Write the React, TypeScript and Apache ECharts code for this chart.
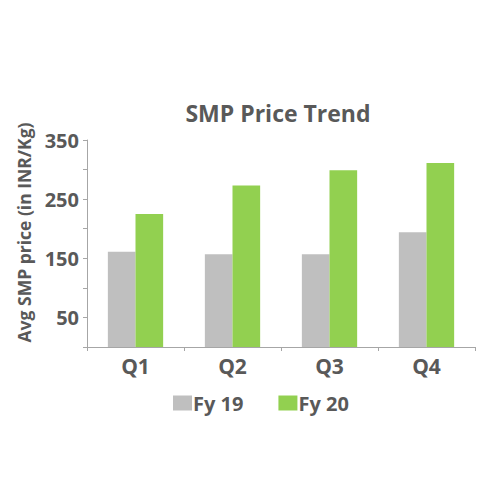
import React, { useEffect, useRef } from "react";
import * as echarts from "echarts";

const categories = ["Q1", "Q2", "Q3", "Q4"];
const fy19 = [161, 157, 157, 194];
const fy20 = [225, 273, 299, 311];
const seriesNames = ["Fy 19", "Fy 20"];
const shownTicks = [50, 150, 250, 350];

const TEXT = "#595959";
const FONT = "Open Sans";

export default function App() {
  const ref = useRef<HTMLDivElement>(null);
  useEffect(() => {
    if (!ref.current) return;
    const chart = echarts.init(ref.current, null, { renderer: "svg" });
    chart.setOption({
      animation: false,
      backgroundColor: "#ffffff",
      title: {
        text: "SMP Price Trend",
        left: 273,
        textAlign: "center",
        top: 96,
        textStyle: { color: TEXT, fontFamily: FONT, fontWeight: "bold", fontSize: 23 },
      },
      grid: { left: 87, right: 25, top: 140, bottom: 153, containLabel: false },
      legend: {
        data: seriesNames,
        top: 388,
        left: 168,
        itemWidth: 19,
        itemHeight: 15,
        itemGap: 35,
        icon: "rect",
        textStyle: { color: TEXT, fontFamily: FONT, fontWeight: "bold", fontSize: 20, padding: [0, 0, 0, -4] },
      },
      xAxis: {
        type: "category",
        data: categories,
        axisLine: { lineStyle: { color: "#A6A6A6", width: 1 } },
        axisTick: { show: true, length: 4, lineStyle: { color: "#A6A6A6" } },
        axisLabel: { color: TEXT, fontFamily: FONT, fontWeight: "bold", fontSize: 21, margin: 8 },
      },
      yAxis: {
        type: "value",
        min: 0,
        max: 350,
        interval: 50,
        name: "Avg SMP price (in INR/Kg)",
        nameLocation: "middle",
        nameRotate: 90,
        nameGap: 54,
        nameTextStyle: { color: TEXT, fontFamily: FONT, fontWeight: "bold", fontSize: 17.5, padding: [0, 0, 0, 22] },
        axisLine: { show: true, lineStyle: { color: "#A6A6A6", width: 1 } },
        axisTick: { show: true, length: 4, lineStyle: { color: "#A6A6A6" } },
        splitLine: { show: false },
        axisLabel: {
          color: TEXT,
          fontFamily: FONT,
          fontWeight: "bold",
          fontSize: 20,
          margin: 8,
          formatter: (v: number) => (shownTicks.includes(v) ? String(v) : ""),
        },
      },
      series: [
        {
          name: seriesNames[0],
          type: "bar",
          data: fy19,
          itemStyle: { color: "#BFBFBF" },
          barGap: "0%",
          barCategoryGap: "43%",
        },
        {
          name: seriesNames[1],
          type: "bar",
          data: fy20,
          itemStyle: { color: "#92D050" },
          barGap: "0%",
          barCategoryGap: "43%",
        },
      ],
    });
    return () => chart.dispose();
  }, []);
  return <div ref={ref} style={{ width: 500, height: 500, margin: -8 }} />;
}
